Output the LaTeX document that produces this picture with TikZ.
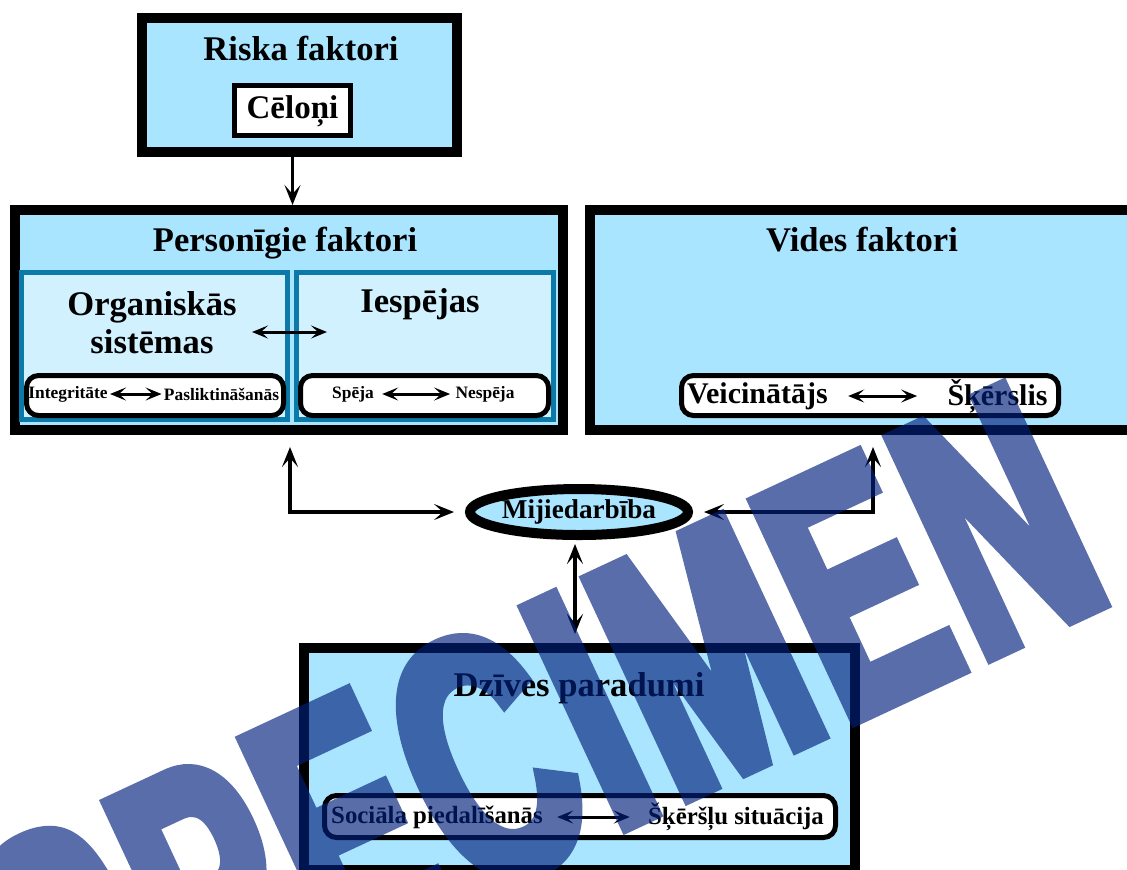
\documentclass[tikz,border=0pt]{standalone}
\usepackage{fontspec}
\setmainfont{Liberation Serif}
\newfontfamily\wmfont{Liberation Sans Bold}[FakeStretch=0.6,FakeBold=4,LetterSpace=3]
\usetikzlibrary{arrows.meta,shapes.geometric}
\definecolor{lb}{RGB}{170,229,255}
\definecolor{lbb}{RGB}{210,241,255}
\definecolor{tealb}{RGB}{12,122,168}
\definecolor{wmc}{RGB}{0,31,124}
\tikzset{
  bigtip/.tip={Stealth[length=10pt,width=8pt,inset=4.5pt]},
  smalltip/.tip={Stealth[length=8pt,width=6.5pt,inset=3.5pt]},
  bigbox/.style={draw=black,line width=5pt,fill=lb,inner sep=0pt},
  subbox/.style={draw=tealb,line width=2.6pt,fill=lbb,inner sep=0pt},
  whitebox/.style={draw=black,line width=2.5pt,fill=white,rounded corners=6pt,inner sep=0pt},
  plainbox/.style={draw=black,line width=2.5pt,fill=white,inner sep=0pt},
  titletxt/.style={font=\bfseries\fontsize{17.3}{19}\selectfont,inner sep=0pt,align=center},
  midtxt/.style={font=\bfseries\fontsize{15}{17}\selectfont,inner sep=0pt},
  lowtxt/.style={font=\bfseries\fontsize{12.4}{14}\selectfont,inner sep=0pt},
  smalltxt/.style={font=\bfseries\fontsize{8.7}{10}\selectfont,inner sep=0pt},
  conn/.style={line width=2pt,{bigtip}-{bigtip}},
  oneway/.style={line width=1.3pt,-{bigtip}},
  inarrow/.style={line width=1.5pt,{smalltip}-{smalltip}},
  wmark/.style={font=\wmfont\fontsize{174}{174}\selectfont,text=wmc,inner sep=0pt}
}
\begin{document}
\begin{tikzpicture}[x=0.5pt,y=-0.5pt]
\useasboundingbox (0,0) rectangle (1127,869);
\clip (0,0) rectangle (1127,869);

% Riska faktori
\node[bigbox,minimum width=157.5pt,minimum height=67pt] (riska) at (299.5,85) {};
\node[titletxt] (riskaT) at (301,48) {Riska faktori};
\node[plainbox,minimum width=58pt,minimum height=25pt] (cel) at (292.5,110.5) {};
\node[titletxt,font=\bfseries\fontsize{16.5}{18}\selectfont] (celT) at (292.5,111) {Cēloņi};

% Personigie faktori
\node[bigbox,minimum width=274pt,minimum height=110pt] (pers) at (289,320) {};
\node[titletxt] (persT) at (285,243) {Personīgie faktori};
\node[subbox,minimum width=133pt,minimum height=73.5pt] (org) at (154.5,346) {};
\node[subbox,minimum width=128.5pt,minimum height=73.5pt] (iesp) at (425,346) {};
\node[titletxt] (orgT) at (152,323) {Organiskās\\sistēmas};
\node[titletxt] (iespT) at (420,304) {Iespējas};
\coordinate (oa) at (252,332);
\coordinate (ob) at (327,332);
\draw[inarrow] (oa) -- (ob);
\node[whitebox,minimum width=128.5pt,minimum height=20pt] (wl) at (155,395.5) {};
\node[whitebox,minimum width=124pt,minimum height=20pt] (wr) at (424.5,395.5) {};
\node[smalltxt] (integ) at (68,394) {Integritāte};
\node[smalltxt] (pasl) at (221.5,394) {Pasliktināšanās};
\node[smalltxt] (speja) at (353,394) {Spēja};
\node[smalltxt] (nesp) at (485,394) {Nespēja};
\draw[inarrow,shorten <=1pt,shorten >=1pt] (integ.east) -- (pasl.west);
\draw[inarrow,shorten <=4pt,shorten >=2.5pt] (speja.east) -- (nesp.west);

% Vides faktori
\node[bigbox,minimum width=275pt,minimum height=110pt] (vid) at (865,320) {};
\node[titletxt] (vidT) at (862,240) {Vides faktori};
\node[whitebox,minimum width=188.5pt,minimum height=20pt] (wv) at (870,395.5) {};
\node[midtxt] (veic) at (757.5,396) {Veicinātājs};
\node[midtxt] (skers) at (997.5,396) {Šķērslis};
\draw[inarrow,shorten <=10pt,shorten >=15pt] (veic.east) -- (skers.west);

% Mijiedarbiba
\node[ellipse,draw=black,line width=5pt,fill=lb,inner sep=0pt,minimum width=108pt,minimum height=23pt,
      font=\bfseries\fontsize{13.6}{15}\selectfont] (mij) at (579,512) {Mijiedarbība};

% Dzives paradumi
\node[bigbox,minimum width=275.5pt,minimum height=111pt] (dz) at (579.5,759) {};
\node[titletxt] (dzT) at (579,688) {Dzīves paradumi};
\node[whitebox,minimum width=255.5pt,minimum height=21pt] (wd) at (580,816.5) {};
\node[lowtxt] (soc) at (437,817) {Sociāla piedalīšanās};
\node[lowtxt] (sks) at (736,817) {Šķēršļu situācija};
\draw[inarrow,shorten <=7pt,shorten >=9pt] (soc.east) -- (sks.west);

% connectors
\draw[oneway] (riska.south -| cel) -- (pers.north -| cel);
\coordinate (lc) at (290,512);
\coordinate (rc) at (873,512);
\draw[conn] ([yshift=-6pt]pers.south -| lc) -- (lc) -- ([xshift=-5.5pt]mij.west);
\draw[conn] ([yshift=-6pt]vid.south -| rc) -- (rc) -- ([xshift=5.5pt]mij.east);
\draw[conn] ([xshift=-2pt,yshift=-2pt]mij.south) -- ([xshift=-2.25pt,yshift=4.5pt]dz.north);

% watermark
\begin{scope}[transparency group,opacity=0.65]
\node[wmark,rotate=25] (wm) at (538,735) {SPECIMEN};
\end{scope}
\end{tikzpicture}
\end{document}
